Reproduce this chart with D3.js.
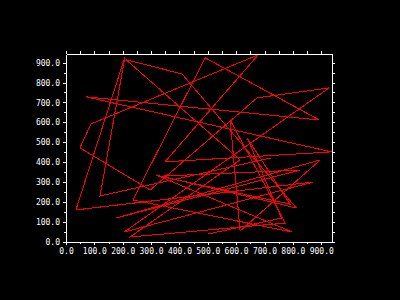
<!DOCTYPE html>
<html>
<head>
<meta charset="utf-8">
<script src="https://cdn.jsdelivr.net/npm/d3@7"></script>
<style>
  body { margin: 0; background: #000; }
  svg { display: block; }
</style>
</head>
<body>
<div id="plot"></div>
<script>
// random walk points, in drawing order
var xValues = [724, 120, 208, 35, 872, 205, 928, 674, 297, 49, 88, 678, 349, 936, 71, 893, 491,
               236, 798, 318, 812, 409, 212, 614, 226, 773, 579, 614, 897, 572, 176, 826, 330,
               790, 640, 760, 501];
var yValues = [422, 231, 929, 161, 301, 50, 773, 723, 261, 472, 592, 939, 402, 452, 728, 612, 924,
               211, 50, 336, 171, 843, 914, 412, 25, 95, 612, 55, 412, 281, 120, 361, 330,
               190, 520, 120, 40];

// tick labels
var majorTicks = [0, 100, 200, 300, 400, 500, 600, 700, 800, 900];
var minorTicks = [50, 150, 250, 350, 450, 550, 650, 750, 850];

var width = 400;
var height = 300;
// plot box edges (don't call it "top", that's window.top)
var box = { left: 66, right: 332, top: 54, bottom: 242 };

var x = d3.scaleLinear().domain([0, 938]).range([box.left, box.right]);
var y = d3.scaleLinear().domain([0, 943]).range([box.bottom, box.top]);

var svg = d3.select("#plot")
    .append("svg")
    .attr("width", width)
    .attr("height", height)
    .style("background", "#000");

var points = xValues.map(function(d, i) { return [d, yValues[i]]; });

// the red line first, the box goes on top
var line = d3.line()
    .x(function(d) { return x(d[0]); })
    .y(function(d) { return y(d[1]); });

svg.append("path")
    .datum(points)
    .attr("d", line)
    .attr("fill", "none")
    .attr("stroke", "#ff0000")
    .attr("stroke-width", 1)
    .attr("shape-rendering", "crispEdges");

// axes on all four sides, ticks pointing out
function styleAxis(g) {
    g.select(".domain").attr("stroke", "#fff");
    g.selectAll(".tick line").attr("stroke", "#fff");
    g.selectAll("text")
        .attr("fill", "#fff")
        .style("font-family", "'DejaVu Sans Mono', monospace")
        .style("font-size", "8px");
    g.attr("shape-rendering", "crispEdges");
}

var fmt = d3.format(".1f");

svg.append("g")
    .attr("transform", "translate(0," + box.bottom + ")")
    .call(d3.axisBottom(x).tickValues(majorTicks).tickSize(3).tickSizeOuter(0).tickFormat(fmt))
    .call(styleAxis);
svg.append("g")
    .attr("transform", "translate(0," + box.bottom + ")")
    .call(d3.axisBottom(x).tickValues(minorTicks).tickSize(2).tickSizeOuter(0).tickFormat(""))
    .call(styleAxis);

svg.append("g")
    .attr("transform", "translate(" + box.left + ",0)")
    .call(d3.axisLeft(y).tickValues(majorTicks).tickSize(3).tickSizeOuter(0).tickFormat(fmt))
    .call(styleAxis);
svg.append("g")
    .attr("transform", "translate(" + box.left + ",0)")
    .call(d3.axisLeft(y).tickValues(minorTicks).tickSize(2).tickSizeOuter(0).tickFormat(""))
    .call(styleAxis);

svg.append("g")
    .attr("transform", "translate(0," + box.top + ")")
    .call(d3.axisTop(x).tickValues(majorTicks.concat(minorTicks)).tickSize(3).tickSizeOuter(0).tickFormat(""))
    .call(styleAxis);

svg.append("g")
    .attr("transform", "translate(" + box.right + ",0)")
    .call(d3.axisRight(y).tickValues(majorTicks.concat(minorTicks)).tickSize(3).tickSizeOuter(0).tickFormat(""))
    .call(styleAxis);
</script>
</body>
</html>
